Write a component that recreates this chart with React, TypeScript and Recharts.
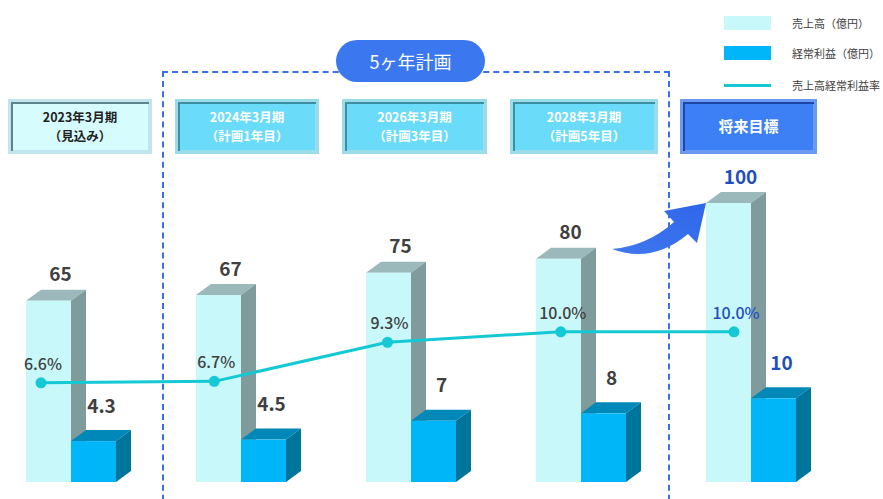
import React from "react";
import { Bar, ComposedChart, LabelList, Line, XAxis, YAxis } from "recharts";

const categories = ["2023年3月期", "2024年3月期", "2026年3月期", "2028年3月期", "将来目標"];
const subLabels = ["（見込み）", "（計画1年目）", "（計画3年目）", "（計画5年目）", ""];
const sales = [65, 67, 75, 80, 100];
const profit = [4.3, 4.5, 7, 8, 10];
const ratio = [6.6, 6.7, 9.3, 10.0, 10.0];

const data = categories.map((name, i) => ({ name, sales: sales[i], profit: profit[i], ratio: ratio[i] }));

const FONT = "'Noto Sans CJK JP', 'Noto Sans', sans-serif";
const DX = 15;
const DY = 11;
const DARK = "#404040";
const BLUE_TXT = "#1f4fbf";

const makeBox = (front: string, side: string, top: string) => (props: any) => {
  const { x, y, width, height, background } = props;
  const bottom = background ? background.y + background.height : y + height;
  return (
    <g>
      <polygon points={`${x},${y} ${x + DX},${y - DY} ${x + width + DX},${y - DY} ${x + width},${y}`} fill={top} />
      <polygon
        points={`${x + width},${y} ${x + width + DX},${y - DY} ${x + width + DX},${bottom - DY} ${x + width},${bottom}`}
        fill={side}
      />
      <rect x={x} y={y} width={width} height={bottom - y} fill={front} />
    </g>
  );
};

const SalesBox = makeBox("#c8f8fa", "#7f9b9c", "#9bb9ba");
const ProfitBox = makeBox("#00b6f8", "#00759b", "#0089b8");

const barLabel = (dx: number, dy: number, fmt: (v: number) => string) => (props: any) => {
  const { x, y, width, value, index } = props;
  return (
    <text
      x={x + width / 2 + dx}
      y={y - dy}
      textAnchor="middle"
      dominantBaseline="central"
      fontFamily={FONT}
      fontWeight={700}
      fontSize={19}
      fill={index === categories.length - 1 ? BLUE_TXT : DARK}
    >
      {fmt(value)}
    </text>
  );
};

const ratioLabel = (props: any) => {
  const { x, y, value, index } = props;
  return (
    <text
      x={x + 2}
      y={y - 20}
      textAnchor="middle"
      dominantBaseline="central"
      fontFamily={FONT}
      fontWeight={500}
      fontSize={16}
      fill={index === categories.length - 1 ? BLUE_TXT : DARK}
    >
      {`${Number(value).toFixed(1)}%`}
    </text>
  );
};

const headerPos = [
  { left: 8, width: 144 },
  { left: 175, width: 144 },
  { left: 342, width: 145 },
  { left: 510, width: 148 },
  { left: 680, width: 137 },
];

const Header = ({ i }: { i: number }) => {
  const first = i === 0;
  const last = i === categories.length - 1;
  const bg = first ? "#d6fcfe" : last ? "#3d80f5" : "#6adcfa";
  const outer = first ? "#bfe6ec" : last ? "#6a9af2" : "#9adcea";
  const inner = first ? "#5f858c" : last ? "#1e46a8" : "#3f8fa3";
  return (
    <div
      style={{
        position: "absolute",
        left: headerPos[i].left,
        top: 99,
        width: headerPos[i].width,
        height: 55,
        boxSizing: "border-box",
        border: `3px solid ${outer}`,
        background: bg,
        boxShadow: `inset 2px 2px 0 ${inner}, inset -1px -1px 0 ${outer}`,
        display: "flex",
        flexDirection: "column",
        alignItems: "center",
        justifyContent: "center",
        color: first ? "#222" : "#fff",
        fontFamily: FONT,
        fontWeight: 700,
        fontSize: last ? 15 : 12.5,
        lineHeight: "18.5px",
      }}
    >
      <div>{categories[i]}</div>
      {subLabels[i] && <div>{subLabels[i]}</div>}
    </div>
  );
};

const legendItems = [
  { label: "売上高（億円）", color: "#c8f8fa", h: 14, top: 16 },
  { label: "経常利益（億円）", color: "#00b6f8", h: 14, top: 46 },
  { label: "売上高経常利益率", color: "#14c8d4", h: 3, top: 78 },
];

export default function App() {
  return (
    <div style={{ position: "absolute", left: 0, top: 0, width: 883, height: 499, background: "#fff", overflow: "hidden" }}>
      {/* 5-year plan dashed frame */}
      <div
        style={{
          position: "absolute",
          left: 162,
          top: 71,
          width: 508,
          height: 460,
          boxSizing: "border-box",
          border: "2.5px dashed #3a6fe8",
        }}
      />
      <div
        style={{
          position: "absolute",
          left: 336,
          top: 40,
          width: 149,
          height: 42,
          borderRadius: 21,
          background: "#3b78f0",
          color: "#fff",
          fontFamily: FONT,
          fontSize: 18,
          display: "flex",
          alignItems: "center",
          justifyContent: "center",
        }}
      >
        5ヶ年計画
      </div>

      {categories.map((_, i) => (
        <Header key={i} i={i} />
      ))}

      {legendItems.map((it) => (
        <React.Fragment key={it.label}>
          <div
            style={{
              position: "absolute",
              left: 724,
              top: it.top + 7 - it.h / 2,
              width: 47,
              height: it.h,
              background: it.color,
            }}
          />
          <div
            style={{
              position: "absolute",
              left: 792,
              top: it.top - 2,
              fontFamily: FONT,
              fontSize: 11,
              lineHeight: "18px",
              color: "#404040",
            }}
          >
            {it.label}
          </div>
        </React.Fragment>
      ))}

      <div style={{ position: "absolute", left: 0, top: 0 }}>
        <ComposedChart
          width={883}
          height={499}
          data={data}
          margin={{ top: 150, right: 47, bottom: 17, left: -14 }}
          barSize={45}
          barGap={0}
        >
          <XAxis dataKey="name" hide />
          <XAxis xAxisId="line" dataKey="name" hide scale="point" padding={{ left: 55, right: 102 }} />
          <YAxis yAxisId="s" hide type="number" domain={[0, 119]} allowDataOverflow />
          <YAxis yAxisId="p" hide type="number" domain={[-1.15, 43.1]} allowDataOverflow />
          <YAxis yAxisId="r" hide type="number" domain={[0, 22.1]} allowDataOverflow />
          <Bar dataKey="sales" yAxisId="s" shape={SalesBox} isAnimationActive={false}>
            <LabelList dataKey="sales" content={barLabel(12, 28, (v) => String(v))} />
          </Bar>
          <Bar dataKey="profit" yAxisId="p" shape={ProfitBox} isAnimationActive={false}>
            <LabelList dataKey="profit" content={barLabel(8, 37, (v) => String(v))} />
          </Bar>
          <Line
            dataKey="ratio"
            xAxisId="line"
            yAxisId="r"
            stroke="#14c8d4"
            strokeWidth={3}
            dot={{ r: 5.5, fill: "#14c8d4", stroke: "#14c8d4", strokeWidth: 0 }}
            isAnimationActive={false}
          >
            <LabelList dataKey="ratio" content={ratioLabel} />
          </Line>
        </ComposedChart>
      </div>

      {/* curved arrow toward the target */}
      <svg width={883} height={499} style={{ position: "absolute", left: 0, top: 0, pointerEvents: "none" }}>
        <defs>
          <linearGradient id="arr" x1="0" y1="1" x2="1" y2="0">
            <stop offset="0" stopColor="#3f78ee" />
            <stop offset="1" stopColor="#2f66ea" />
          </linearGradient>
        </defs>
        <path
          d="M612,249 Q652,264 688,234 L697,243 L706,203 L664,211 L674,222 Q647,246 612,249 Z"
          fill="url(#arr)"
        />
      </svg>
    </div>
  );
}
